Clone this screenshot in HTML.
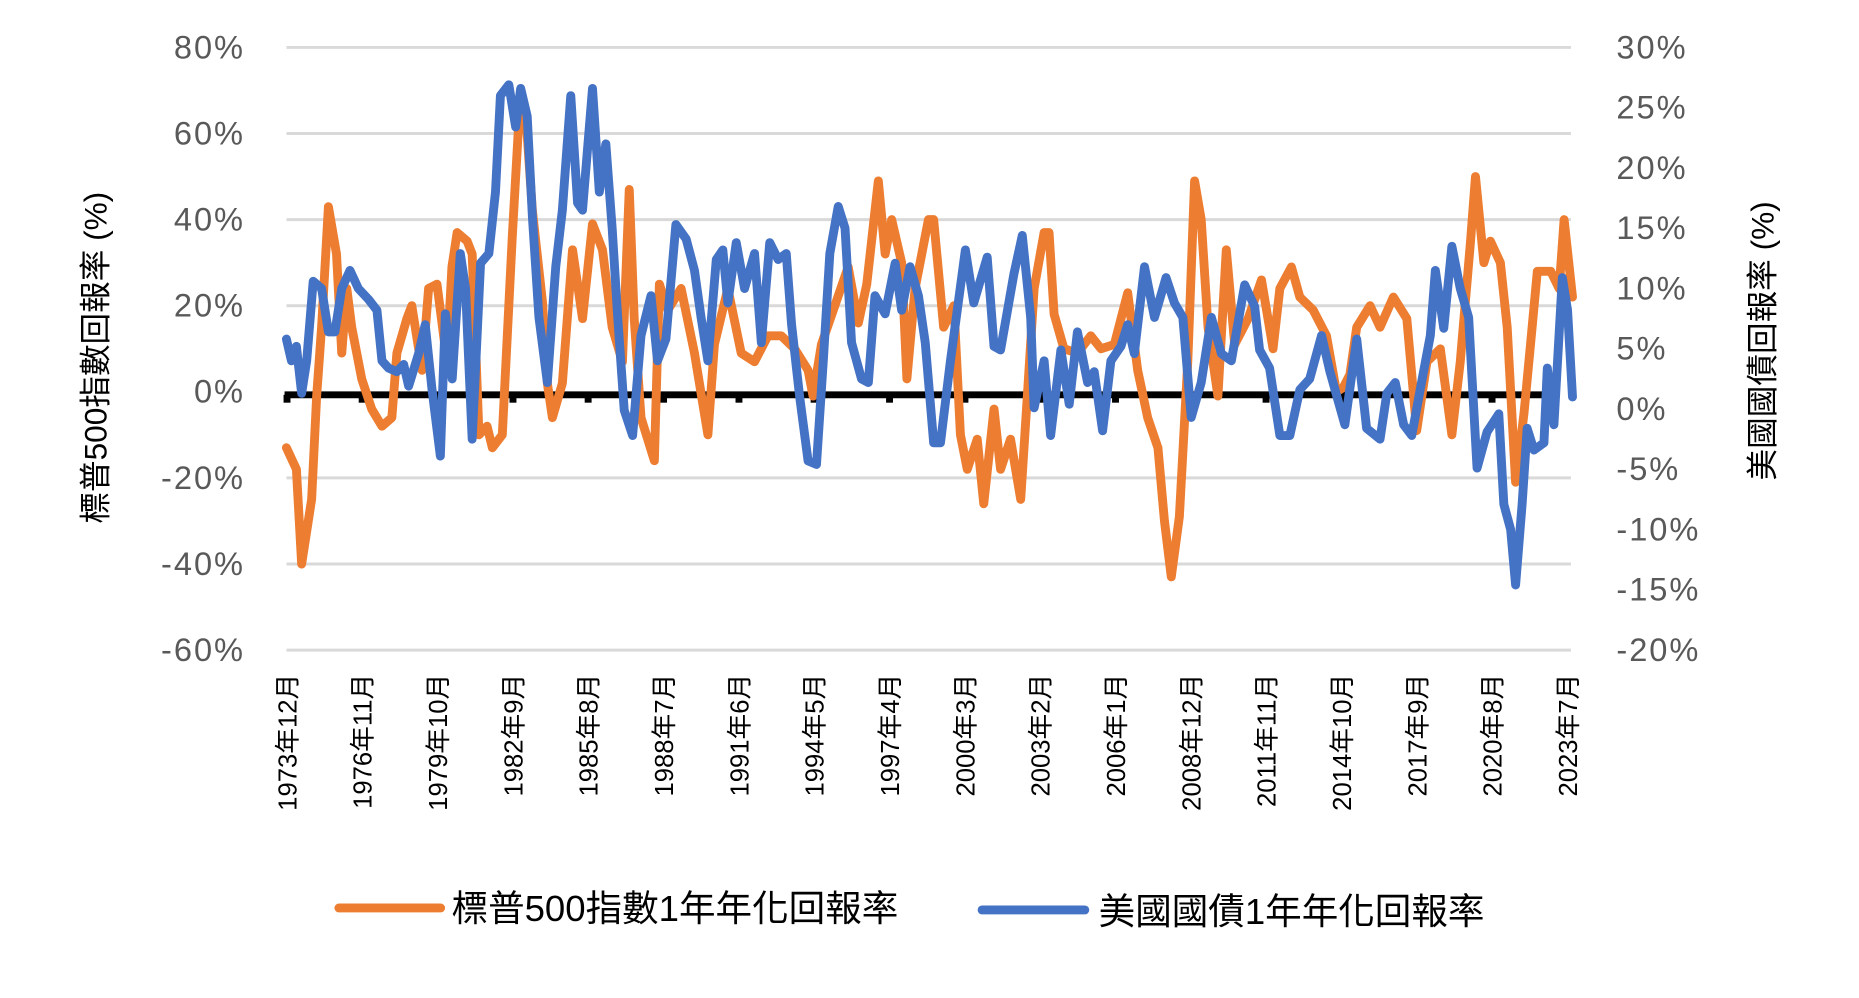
<!DOCTYPE html>
<html><head><meta charset="utf-8">
<style>
html,body{margin:0;padding:0;background:#fff;}
svg{display:block;}
text{font-family:"Liberation Sans","Noto Sans CJK TC",sans-serif;}
</style></head>
<body>
<svg id="chart" width="1859" height="998" viewBox="0 0 1859 998" xmlns="http://www.w3.org/2000/svg">
<g transform="scale(0.988)">
<g id="grid"></g>
<g id="yl"></g>
<g id="yr"></g>
<g id="xl"></g>
<g id="zero"></g>
<g id="series"></g>
<text x="0" y="0" transform="translate(108,362) rotate(-90)" text-anchor="middle" font-size="32" fill="#000">標普500指數回報率 (%)</text>
<text x="0" y="0" transform="translate(1795,345) rotate(-90)" text-anchor="middle" font-size="32" fill="#000">美國國債回報率 (%)</text>
<g>
 <g>
  <line x1="343" y1="919" x2="446" y2="919" stroke="#ED7D31" stroke-width="9" stroke-linecap="round"/>
  <text x="457" y="932" font-size="37" fill="#000">標普500指數1年年化回報率</text>
 </g>
 <g>
  <line x1="994" y1="921" x2="1098" y2="921" stroke="#4472C4" stroke-width="9" stroke-linecap="round"/>
  <text x="1112" y="935" font-size="37" fill="#000">美國國債1年年化回報率</text>
 </g>
</g>
</g>
</svg>
<script>
const leftTicks = [80,60,40,20,0,-20,-40,-60];
const rightTicks = [30,25,20,15,10,5,0,-5,-10,-15,-20];
const xLabels = ["1973年12月","1976年11月","1979年10月","1982年9月","1985年8月","1988年7月","1991年6月","1994年5月","1997年4月","2000年3月","2003年2月","2006年1月","2008年12月","2011年11月","2014年10月","2017年9月","2020年8月","2023年7月"];
const xLabelDates = [1973.92,1976.83,1979.75,1982.67,1985.58,1988.5,1991.42,1994.33,1997.25,2000.17,2003.08,2006.0,2008.92,2011.83,2014.75,2017.67,2020.58,2023.5];

const spDates = [1973.88,1974.26,1974.46,1974.84,1975.03,1975.22,1975.48,1975.79,1975.99,1976.18,1976.37,1976.75,1977.13,1977.52,1977.90,1978.09,1978.47,1978.66,1979.05,1979.30,1979.62,1980.00,1980.19,1980.39,1980.77,1980.96,1981.22,1981.53,1981.73,1982.11,1982.49,1982.75,1983.00,1983.26,1983.64,1983.83,1984.02,1984.40,1984.79,1985.17,1985.55,1985.93,1986.30,1986.69,1986.95,1987.14,1987.40,1987.91,1988.10,1988.42,1988.93,1989.44,1989.95,1990.20,1990.71,1991.22,1991.73,1992.24,1992.75,1993.26,1993.77,1993.96,1994.28,1994.79,1995.30,1995.69,1996.01,1996.45,1996.71,1996.96,1997.34,1997.54,1997.85,1998.36,1998.56,1998.94,1999.33,1999.58,1999.84,2000.22,2000.47,2000.86,2001.11,2001.49,2001.88,2002.13,2002.39,2002.77,2002.96,2003.15,2003.53,2004.04,2004.55,2004.94,2005.45,2005.96,2006.34,2006.72,2007.11,2007.36,2007.62,2007.93,2008.25,2008.51,2008.76,2009.02,2009.40,2009.72,2010.04,2010.55,2011.06,2011.50,2011.76,2012.20,2012.52,2013.03,2013.54,2013.92,2014.18,2014.43,2014.69,2015.20,2015.58,2016.09,2016.60,2016.98,2017.37,2017.88,2018.32,2018.64,2019.03,2019.22,2019.54,2019.79,2020.17,2020.43,2020.75,2021.07,2021.32,2021.58,2022.09,2022.41,2022.60,2022.92];
const spValues = [-13,-18,-40,-25,-1,15,43,32,9,24,15,3,-4,-8,-6,9,17,20,5,24,25,7,29,37,35,32,-10,-8,-13,-10,36,64,65,42,21,2,-6,2,33,17,39,33,15,7,47,17,-6,-16,25,19,24,9,-10,11,24,9,7,13,13,10,5,-1,11,20,29,16,25,49,32,40,30,3,24,40,40,15,20,-10,-18,-11,-26,-4,-18,-11,-25,-1,24,37,37,18,10,9,13,10,11,23,5,-6,-13,-30,-43,-29,7,49,40,15,-1,33,11,17,26,10,24,29,22,19,13,0,1,4,15,20,15,22,17,-9,7,10,-10,7,35,50,30,35,30,15,-21,-5,11,28,28,24,40,22];

const tsyDates = [1973.88,1974.07,1974.26,1974.46,1974.65,1974.90,1975.22,1975.48,1975.73,1975.99,1976.30,1976.62,1977.01,1977.33,1977.52,1977.77,1978.09,1978.35,1978.54,1978.92,1979.17,1979.43,1979.75,1979.94,1980.20,1980.51,1980.71,1980.96,1981.28,1981.60,1981.85,1982.04,1982.36,1982.62,1982.81,1983.06,1983.26,1983.51,1983.83,1984.15,1984.40,1984.72,1984.98,1985.17,1985.55,1985.81,1986.06,1986.30,1986.50,1986.76,1987.08,1987.40,1987.78,1988.03,1988.35,1988.73,1989.12,1989.44,1989.69,1989.95,1990.27,1990.52,1990.71,1991.03,1991.35,1991.73,1991.99,1992.31,1992.63,1992.94,1993.14,1993.45,1993.77,1994.09,1994.35,1994.60,1994.92,1995.18,1995.43,1995.81,1996.07,1996.32,1996.71,1997.09,1997.34,1997.66,1997.98,1998.24,1998.56,1998.82,1999.20,1999.77,2000.09,2000.60,2000.86,2001.11,2001.62,2001.94,2002.26,2002.39,2002.77,2003.02,2003.41,2003.73,2004.04,2004.43,2004.68,2005.00,2005.32,2005.70,2005.96,2006.21,2006.60,2006.98,2007.42,2007.74,2008.06,2008.38,2008.76,2009.15,2009.53,2009.91,2010.42,2010.80,2010.99,2011.37,2011.76,2012.14,2012.52,2012.90,2013.35,2013.67,2014.24,2014.69,2015.07,2015.58,2015.84,2016.16,2016.48,2016.79,2017.11,2017.50,2017.69,2018.01,2018.32,2018.64,2018.96,2019.28,2019.66,2020.11,2020.30,2020.56,2020.75,2021.00,2021.19,2021.45,2021.83,2021.96,2022.21,2022.53,2022.73,2022.92];
const tsyValues = [5.8,4.0,5.2,1.3,4.0,10.6,10.0,6.4,6.4,10.0,11.5,10.0,9.1,8.2,4.0,3.4,3.1,3.7,1.9,4.6,7.0,1.6,-3.9,7.9,2.5,12.9,10.0,-2.5,12.1,12.9,18.0,26.0,26.9,23.4,26.6,24.3,15.9,7.6,2.2,11.8,16.5,26.0,17.1,16.5,26.6,18.0,22.0,15.0,8.0,-0.1,-2.2,6.1,9.4,4.0,5.8,15.3,14.1,11.5,7.6,4.0,12.4,13.2,8.8,13.8,10.0,12.9,5.5,13.8,12.4,12.9,7.0,1.0,-4.3,-4.6,4.0,12.9,16.8,15.0,5.5,2.5,2.2,9.4,7.9,12.1,8.2,11.8,9.4,5.5,-2.8,-2.8,4.0,13.2,8.8,12.6,5.2,4.9,11.2,14.4,7.6,0.1,4.0,-2.2,4.9,0.4,6.4,2.2,3.1,-1.8,4.0,5.2,7.0,4.6,11.8,7.6,10.9,8.8,7.6,-0.7,2.2,7.6,4.6,4.0,10.3,8.5,4.9,3.4,-2.2,-2.2,1.6,2.5,6.1,3.1,-1.3,5.8,-1.6,-2.5,1.3,2.2,-1.3,-2.2,1.6,6.1,11.5,6.7,13.5,10.0,7.6,-4.9,-1.9,-0.4,-7.9,-10.0,-14.6,-7.9,-1.6,-3.4,-2.8,3.4,-1.3,10.9,8.2,1.0];

const NS = "http://www.w3.org/2000/svg";
const T0 = 1973.92, T1 = 2023.5;
function xLabelScale(t){ return 291 + (t - T0) / (T1 - T0) * (1587 - 291); }
function xScale(t){ return 291 + (t - T0) / (T1 - T0) * (1607 - 291); }
function yLeft(v){ return 48 + (80 - v) / 140 * 610; }
function yRight(v){ return 48 + (30 - v) / 50 * 610; }
function mk(tag, attrs, parent){
  const e = document.createElementNS(NS, tag);
  for (const k in attrs) e.setAttribute(k, attrs[k]);
  parent.appendChild(e);
  return e;
}
const grid = document.getElementById('grid');
const yl = document.getElementById('yl');
const yr = document.getElementById('yr');
const xl = document.getElementById('xl');
const zero = document.getElementById('zero');
const series = document.getElementById('series');

leftTicks.forEach(v => {
  if (v !== 0) {
    const g = mk('line', {x1:290, x2:1590, y1:yLeft(v), y2:yLeft(v), stroke:'#d9d9d9', 'stroke-width':3}, grid);
    
    
  }
  const t = mk('text', {x:248, y:yLeft(v)+11, 'text-anchor':'end', 'font-size':33, 'letter-spacing':2, fill:'#595959'}, yl);
  t.textContent = v + '%';
  
  
});
rightTicks.forEach(v => {
  const t = mk('text', {x:1636, y:yRight(v)+11, 'text-anchor':'start', 'font-size':33, 'letter-spacing':2, fill:'#595959'}, yr);
  t.textContent = v + '%';
  
  
});
xLabels.forEach((s, i) => {
  const x = xLabelScale(xLabelDates[i]);
  const t = mk('text', {x:0, y:0, transform:'translate(' + (x+9) + ',682) rotate(-90)', 'text-anchor':'end', 'font-size':26, fill:'#000'}, xl);
  t.textContent = s;
  
  
  if (i < xLabels.length - 1) {
    const tk = mk('rect', {x:x-4, y:yLeft(0)+3, width:7, height:8, fill:'#000'}, zero);
    
    
  }
});
const zl = mk('line', {x1:288, x2:1566, y1:yLeft(0)+3, y2:yLeft(0)+3, stroke:'#000', 'stroke-width':7}, zero);



function path(dates, vals, yf){
  return dates.map((t, i) => (i ? 'L' : 'M') + xScale(t).toFixed(1) + ',' + yf(vals[i]).toFixed(1)).join('');
}
const ps = mk('path', {d:path(spDates, spValues, yLeft), fill:'none', stroke:'#ED7D31', 'stroke-width':9, 'stroke-linejoin':'round', 'stroke-linecap':'round'}, series);


const pt = mk('path', {d:path(tsyDates, tsyValues, yRight), fill:'none', stroke:'#4472C4', 'stroke-width':9, 'stroke-linejoin':'round', 'stroke-linecap':'round'}, series);


</script>
</body></html>
